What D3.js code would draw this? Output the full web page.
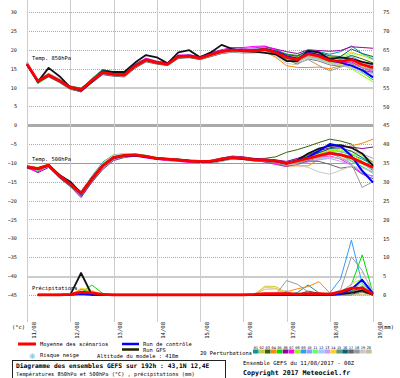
<!DOCTYPE html>
<html>
<head>
<meta charset="utf-8">
<script src="https://cdn.jsdelivr.net/npm/d3@7"></script>
<style>
  body { margin: 0; background: #fff; }
  svg { display: block; font-family: "DejaVu Sans Mono", monospace; }
</style>
</head>
<body>
<div id="chart"><svg width="400" height="378"></svg></div>
<script>
// time steps (hours from 11/08 00Z)
const hours = [0,6,12,18,24,30,36,42,48,54,60,66,72,78,84,90,96,102,108,114,120,126,132,138,144,150,156,162,168,174,180,186,192];
const precipHours = hours.slice(1);
const dayHours = [0,24,48,72,96,120,144,168,192];
const dayLabels = ["11/08","12/08","13/08","14/08","15/08","16/08","17/08","18/08","19/08"];
const tempTicks = [30,25,20,15,10,5,0,-5,-10,-15,-20,-25,-30,-35,-40,-45];
const precipTicks = [75,70,65,60,55,50,45,40,35,30,25,20,15,10,5,0];

const pertColors = ["#009999","#cccc33","#336600","#ff8800","#00dd00","#990099","#ff00ff","#99ff00","#3399ff","#9999ff",
                    "#66ff66","#99ccff","#cc99ff","#ffcc33","#669966","#006677","#666666","#999999","#c8c8c8","#ccbb99"];

// 850 hPa
const mean850 = [16.2,11.7,13.3,11.8,10.0,9.4,11.8,14.0,13.5,13.3,15.7,17.3,16.6,16.2,18.2,18.3,17.8,18.7,19.5,19.9,19.7,19.7,20.1,19.3,18.0,17.4,18.9,18.3,17.2,16.9,17.4,16.1,15.3];
const gfs850 = [16.0,11.5,15.2,13.0,10.0,9.2,11.5,14.3,14.1,14.1,16.6,18.6,18.0,16.4,19.3,19.9,18.0,19.3,21.3,20.2,19.7,19.5,19.2,18.8,17.0,17.0,19.7,19.3,17.5,18.0,17.6,16.8,16.2];
const ctrl850 = [16.1,11.6,13.2,11.8,10.0,9.3,11.7,13.9,13.5,13.4,15.8,17.4,16.7,16.3,18.3,18.4,17.9,18.8,19.6,20.0,19.8,19.8,20.2,19.5,18.3,17.6,19.2,18.6,17.3,16.6,15.8,14.6,12.7];
const pert850 = [
  [16.5,11.2,13.0,11.6,10.2,9.6,12.4,14.8,14.0,13.5,16.0,17.0,16.4,16.0,18.0,18.6,18.2,19.0,19.8,20.4,19.9,19.8,20.3,19.6,18.5,18.0,19.8,19.5,18.8,19.5,21.0,19.0,17.5],
  [15.8,11.9,13.5,12.0,9.8,9.0,11.5,13.6,13.2,13.0,15.2,16.9,16.5,16.3,18.0,18.0,17.4,18.2,19.0,19.6,19.4,19.5,20.0,19.0,17.8,16.8,18.2,17.5,16.5,16.2,16.8,15.5,14.8],
  [16.0,11.4,13.2,11.7,10.4,9.8,12.2,14.2,13.6,13.1,15.5,17.2,16.8,16.6,18.5,18.4,17.6,18.5,19.4,19.8,19.9,20.0,19.8,19.5,18.8,18.5,19.6,19.2,18.0,17.5,18.5,17.6,16.5],
  [16.3,11.8,13.6,12.1,9.9,9.2,11.6,13.8,13.4,13.4,15.9,17.5,16.7,16.0,17.8,18.1,17.6,18.6,19.2,19.5,19.3,19.4,19.5,18.0,15.8,15.3,15.3,15.4,15.0,15.8,16.4,15.8,15.0],
  [16.8,11.0,12.9,11.5,10.1,9.5,12.0,14.4,13.8,13.6,16.1,17.6,16.9,16.5,18.4,18.5,18.0,18.9,19.6,20.1,20.0,20.2,20.6,20.0,18.9,18.2,19.5,18.8,17.6,16.8,16.5,14.0,12.0],
  [16.1,11.6,13.1,11.6,9.7,8.8,11.4,13.7,13.3,13.2,15.8,17.4,16.8,16.4,18.3,18.6,18.1,19.2,20.0,20.5,20.3,20.5,20.8,20.2,19.5,19.0,20.0,19.8,19.6,19.8,20.8,20.6,20.4],
  [16.4,11.5,13.4,12.2,10.2,9.3,11.7,14.1,13.7,13.5,16.2,17.8,17.0,16.6,18.6,18.7,18.2,19.1,19.9,20.6,20.6,20.9,21.0,20.1,18.6,17.9,19.2,18.6,17.8,16.5,16.8,15.2,14.2],
  [15.9,11.3,13.0,11.4,9.6,9.0,11.6,14.0,13.3,13.0,15.4,17.0,16.3,15.9,17.9,18.0,17.5,18.4,19.3,19.7,19.5,19.6,20.2,19.4,18.3,17.5,19.0,18.0,16.9,16.0,15.0,13.2,11.5],
  [16.2,11.8,13.3,11.9,10.3,9.7,12.1,14.5,13.9,13.4,15.8,17.1,16.5,16.1,18.1,18.4,17.9,18.8,19.6,20.0,19.8,19.9,20.4,19.8,18.4,17.3,19.4,19.0,17.9,17.5,18.2,16.8,15.8],
  [16.6,12.0,13.7,12.3,10.0,9.1,11.3,13.5,13.0,12.9,15.3,17.0,16.6,16.4,18.2,18.2,17.7,18.5,19.3,19.7,19.4,19.3,19.9,19.2,18.0,17.2,18.6,18.4,17.0,16.6,17.8,16.2,14.5],
  [16.0,11.6,13.1,11.8,10.1,9.6,12.3,14.6,14.2,13.8,16.0,17.5,16.9,16.3,18.4,18.6,18.0,18.8,19.7,20.2,20.0,19.8,20.1,19.4,18.2,17.7,19.1,18.7,17.6,17.8,19.0,18.6,18.0],
  [16.3,11.9,13.5,11.9,9.8,9.2,11.7,13.9,13.3,13.1,15.6,17.3,16.5,16.0,18.0,18.1,17.5,18.3,19.0,19.3,19.1,19.2,19.6,18.6,17.2,16.6,18.0,17.4,16.4,15.8,15.2,13.8,13.2],
  [16.1,11.4,13.0,11.6,10.0,9.5,12.0,14.3,13.7,13.3,15.7,17.2,16.4,15.9,18.1,18.3,17.9,18.9,19.8,20.3,20.2,20.4,20.5,19.6,18.1,17.0,18.8,18.2,17.0,16.4,16.0,14.6,13.6],
  [16.5,11.7,13.4,12.0,10.2,9.6,11.9,14.0,13.6,13.6,16.0,17.6,16.9,16.6,18.5,18.4,17.7,18.6,19.4,19.8,19.6,19.7,20.0,19.3,18.5,18.0,19.2,19.0,18.2,18.3,19.4,18.4,17.3],
  [15.9,11.5,13.2,11.8,9.9,9.3,11.8,14.1,13.4,13.2,15.5,17.0,16.4,16.0,18.0,18.1,17.6,18.5,19.2,19.6,19.4,19.5,19.7,18.8,17.6,17.0,18.3,17.8,16.8,16.8,17.2,16.0,14.9],
  [16.2,11.8,13.6,12.1,10.3,9.7,12.2,14.7,14.1,13.7,16.1,17.5,16.8,16.5,18.4,18.5,17.9,18.7,19.6,20.0,19.8,19.9,20.3,19.7,18.7,18.3,19.9,19.3,18.4,18.2,20.2,19.0,18.2],
  [16.0,11.3,12.8,11.3,9.5,8.9,11.2,13.4,13.0,12.8,15.1,16.8,16.2,15.8,17.7,17.9,17.4,18.2,19.0,19.4,19.2,19.3,19.8,18.9,17.4,16.2,17.6,17.0,16.0,15.6,15.8,14.6,14.0],
  [16.4,11.6,13.3,11.9,10.1,9.4,11.9,14.2,13.6,13.4,15.8,17.4,16.7,16.3,18.3,18.4,17.8,18.7,19.5,20.0,19.9,20.0,20.2,19.2,17.7,16.5,17.4,15.8,14.4,15.4,16.2,15.2,14.6],
  [16.7,12.1,13.8,12.3,10.2,9.4,11.6,13.8,13.2,13.0,15.4,17.1,16.4,16.1,18.0,18.2,17.6,18.4,19.1,19.5,19.2,19.1,19.4,18.4,16.4,16.0,17.8,17.2,16.2,15.8,15.4,14.4,13.0],
  [16.3,11.7,13.4,11.9,10.0,9.4,11.9,14.1,13.6,13.3,15.6,17.2,16.6,16.2,18.2,18.3,17.7,18.6,19.4,19.8,19.5,19.6,19.6,18.6,17.0,16.7,18.4,17.9,17.3,17.0,17.6,16.6,15.6]
];

// 500 hPa
const mean500 = [-11.0,-11.5,-10.6,-13.4,-15.6,-18.0,-14.3,-10.8,-8.6,-8.0,-7.9,-8.3,-8.8,-9.0,-9.2,-9.5,-9.6,-9.6,-9.0,-8.6,-8.8,-9.2,-9.2,-9.5,-10.1,-9.5,-8.8,-8.1,-7.4,-7.9,-8.6,-9.9,-11.2];
const gfs500 = [-11.2,-11.4,-10.7,-13.2,-15.0,-18.0,-14.0,-10.6,-8.5,-8.1,-8.0,-8.4,-8.9,-9.0,-9.3,-9.4,-9.7,-9.6,-9.2,-8.6,-9.0,-9.1,-9.3,-9.6,-10.2,-9.3,-7.5,-6.2,-5.5,-5.3,-6.0,-7.5,-10.8];
const ctrl500 = [-11.0,-11.6,-10.6,-13.5,-15.7,-18.2,-14.4,-10.8,-8.7,-8.1,-8.0,-8.3,-8.8,-9.0,-9.2,-9.5,-9.6,-9.6,-9.0,-8.6,-8.8,-9.2,-9.2,-9.5,-10.1,-9.4,-8.5,-6.8,-5.0,-5.6,-8.1,-12.1,-15.2];
const pert500 = [
  [-11.2,-11.8,-10.4,-13.0,-15.2,-17.6,-13.5,-9.8,-7.9,-7.6,-7.8,-8.4,-9.0,-9.3,-9.4,-9.6,-9.8,-9.8,-9.1,-8.5,-8.7,-9.0,-9.0,-9.3,-9.8,-9.0,-8.0,-7.2,-6.5,-7.0,-7.8,-9.0,-10.5],
  [-10.8,-11.3,-10.8,-13.8,-16.0,-18.4,-15.0,-11.6,-9.2,-8.3,-8.0,-8.2,-8.6,-8.8,-9.0,-9.4,-9.5,-9.7,-9.2,-8.8,-9.0,-9.3,-9.4,-9.8,-10.5,-9.8,-9.0,-8.0,-7.5,-7.6,-8.2,-9.8,-11.0],
  [-11.1,-11.6,-10.7,-13.5,-15.8,-18.2,-14.6,-11.0,-8.7,-7.9,-7.7,-8.1,-8.7,-9.1,-9.3,-9.7,-9.9,-9.5,-8.8,-8.4,-8.5,-8.9,-8.8,-8.4,-7.2,-6.5,-5.6,-4.6,-3.7,-4.2,-5.0,-7.8,-9.8],
  [-10.9,-11.4,-10.5,-13.2,-15.5,-17.8,-14.0,-10.5,-8.4,-7.8,-7.8,-8.4,-8.9,-9.1,-9.3,-9.6,-9.7,-9.8,-9.3,-8.9,-9.1,-9.4,-9.6,-10.2,-10.8,-10.8,-10.8,-9.0,-7.4,-6.0,-5.5,-4.8,-3.7],
  [-11.3,-12.0,-10.9,-13.6,-15.9,-18.3,-14.8,-11.2,-8.9,-8.1,-7.6,-8.0,-8.6,-8.9,-9.0,-9.3,-9.4,-9.4,-8.8,-8.3,-8.6,-9.1,-9.2,-9.6,-10.0,-9.2,-8.2,-7.4,-7.0,-7.8,-9.5,-11.0,-12.5],
  [-11.0,-12.6,-11.2,-13.9,-16.2,-19.2,-15.1,-11.4,-9.0,-8.2,-8.1,-8.5,-9.0,-9.2,-9.3,-9.5,-9.6,-9.3,-8.7,-8.2,-8.4,-8.8,-9.0,-9.2,-9.6,-8.8,-7.8,-6.8,-6.0,-5.6,-5.8,-6.2,-5.8],
  [-11.4,-12.4,-10.6,-13.3,-15.4,-17.9,-14.2,-10.7,-8.5,-8.0,-8.2,-8.7,-9.1,-9.4,-9.6,-9.9,-9.9,-9.6,-8.9,-8.4,-8.6,-9.2,-9.8,-10.4,-11.0,-10.0,-9.4,-8.6,-8.2,-9.0,-10.6,-12.8,-13.5],
  [-10.9,-11.2,-10.3,-13.1,-15.3,-17.7,-13.8,-10.2,-8.2,-7.7,-7.9,-8.2,-8.7,-8.9,-9.1,-9.4,-9.5,-9.6,-9.0,-8.7,-8.9,-9.4,-9.3,-9.6,-10.4,-9.7,-8.8,-7.6,-6.8,-6.6,-7.6,-9.5,-11.8],
  [-11.1,-11.6,-10.6,-13.4,-15.7,-18.1,-14.5,-10.9,-8.6,-7.9,-7.8,-8.3,-8.8,-9.0,-9.2,-9.6,-9.8,-10.0,-9.4,-8.9,-9.0,-9.3,-9.1,-9.4,-9.8,-9.4,-8.5,-7.9,-7.2,-7.8,-8.8,-10.2,-12.0],
  [-11.0,-11.7,-10.5,-13.2,-15.6,-18.2,-14.9,-11.5,-9.3,-8.4,-8.1,-8.4,-8.8,-9.1,-9.3,-9.5,-9.6,-9.5,-8.9,-8.6,-8.7,-9.0,-9.5,-9.8,-10.2,-10.0,-9.2,-8.4,-7.8,-7.4,-7.0,-7.6,-8.8],
  [-11.2,-11.4,-10.4,-13.6,-16.1,-18.6,-14.4,-10.4,-8.0,-7.5,-7.6,-8.2,-8.6,-8.8,-9.0,-9.3,-9.5,-9.8,-9.2,-8.7,-8.8,-9.2,-9.2,-9.7,-10.6,-9.6,-8.6,-7.8,-7.2,-7.0,-7.5,-8.4,-10.2],
  [-10.8,-11.3,-10.7,-13.5,-15.7,-18.0,-14.1,-10.6,-8.5,-8.0,-7.9,-8.3,-8.9,-9.2,-9.4,-9.7,-9.8,-9.7,-9.1,-8.7,-8.9,-9.3,-9.6,-10.0,-10.5,-10.2,-9.6,-9.0,-8.6,-8.8,-9.6,-11.2,-12.8],
  [-11.1,-11.9,-10.8,-13.7,-15.9,-18.5,-14.7,-11.3,-9.1,-8.3,-8.0,-8.3,-8.7,-8.9,-9.1,-9.4,-9.6,-9.6,-8.9,-8.5,-8.6,-9.0,-9.4,-9.9,-10.7,-10.4,-9.8,-9.2,-8.8,-9.6,-10.5,-12.2,-13.8],
  [-11.0,-11.5,-10.6,-13.3,-15.4,-17.8,-13.9,-10.1,-8.1,-7.6,-7.7,-8.2,-8.8,-9.1,-9.3,-9.6,-9.7,-9.5,-8.8,-8.4,-8.6,-9.1,-9.0,-9.5,-10.0,-9.4,-8.6,-7.6,-6.5,-6.3,-6.8,-8.0,-9.6],
  [-11.2,-11.6,-10.5,-13.2,-15.5,-17.9,-14.2,-10.8,-8.7,-8.1,-8.0,-8.4,-8.9,-9.0,-9.2,-9.5,-9.6,-9.7,-9.2,-8.8,-9.0,-9.3,-9.3,-9.7,-10.3,-9.9,-9.0,-8.2,-7.6,-7.9,-8.9,-10.0,-11.4],
  [-10.9,-11.4,-10.6,-13.4,-15.6,-18.1,-14.3,-10.7,-8.5,-7.9,-7.8,-8.2,-8.7,-8.9,-9.1,-9.4,-9.5,-9.5,-8.9,-8.5,-8.7,-9.1,-9.2,-9.5,-10.1,-9.5,-8.4,-7.3,-6.2,-6.0,-6.9,-8.6,-10.5],
  [-11.3,-11.8,-10.9,-14.0,-16.3,-18.8,-15.2,-11.8,-9.4,-8.6,-8.2,-8.5,-8.9,-9.2,-9.4,-9.7,-9.9,-9.9,-9.3,-8.9,-9.1,-9.5,-9.7,-10.1,-10.9,-10.4,-9.5,-9.6,-10.4,-11.4,-11.0,-13.0,-14.2],
  [-11.0,-11.5,-10.7,-13.6,-15.8,-18.2,-14.6,-11.0,-8.8,-8.1,-7.9,-8.3,-8.8,-9.0,-9.2,-9.6,-9.8,-10.2,-9.6,-9.0,-9.1,-9.4,-9.5,-10.0,-10.8,-10.1,-9.0,-8.0,-7.4,-8.6,-10.2,-16.5,-15.0],
  [-10.8,-11.4,-10.4,-13.0,-15.3,-17.6,-13.6,-10.0,-8.0,-7.6,-7.8,-8.3,-8.8,-9.0,-9.2,-9.4,-9.5,-9.4,-8.9,-8.7,-8.8,-9.1,-9.3,-9.8,-10.2,-10.6,-11.2,-12.4,-13.0,-12.0,-10.8,-11.4,-12.2],
  [-11.1,-11.6,-10.6,-13.4,-15.6,-18.0,-14.3,-10.8,-8.6,-8.0,-7.9,-8.4,-8.9,-9.1,-9.3,-9.6,-9.7,-9.6,-9.0,-8.6,-8.8,-9.2,-9.4,-9.7,-10.4,-9.8,-9.1,-8.6,-8.4,-8.8,-9.2,-10.4,-11.6]
];

// precipitation (mm), 6h..192h
const meanPrecip = [0,0,0,0.1,0.7,0.5,0.1,0, 0,0,0,0,0,0,0,0, 0,0,0,0,0.1,0.3,0.3,0.3, 0.2,0.3,0.3,0.2,0.8,1.8,1.8,0.2];
const gfsPrecip = [0,0,0,0,5.8,0,0,0, 0,0,0,0,0,0,0,0, 0,0,0,0,0,0,0,0, 0,0,0,0,0.2,0.5,1.2,0];
const ctrlPrecip = [0,0,0,0,0.3,0,0,0, 0,0,0,0,0,0,0,0, 0,0,0,0,0,0,0,0, 0,0,0,0,0.3,1.5,4.0,0.3];
const pertPrecip = [
  [0,0,0,0,0.8,0,0,0, 0,0,0,0,0,0,0,0, 0,0,0,0,0,0,0,0, 0.6,2.6,0.5,0,0,2.0,1.0,0],
  [0,0,0,0,1.5,1.0,0,0, 0,0,0,0,0,0,0,0, 0,0,0,0,0,2.3,2.2,0.6, 0,0,0,0,0,0,1.5,0],
  [0,0,0,0,0,0.6,0,0, 0,0,0,0,0,0,0,0, 0,0,0,0,0,0,0,0, 0,0,0,0,0,0.8,2.2,0],
  [0,0,0,0,1.5,0.5,0,0, 0,0,0,0,0,0,0,0, 0,0,0,0,0,0,0,0.8, 1.6,2.2,3.5,0.5,0,0,0.6,0],
  [0,0,0,0,0.5,2.6,0.4,0, 0,0,0,0,0,0,0,0, 0,0,0,0,0,0,0,0, 0,0,0,0,0.8,2.7,10.6,0.5],
  [0,0,0,0,0,0,0,0, 0,0,0,0,0,0,0,0, 0,0,0,0,0,0,0,0, 0,0,0,0,0,1.0,1.8,0],
  [0,0,0,0,0.3,0,0,0, 0,0,0,0,0,0,0,0, 0,0,0,0,0,0,0,0, 0,0,0,0,0,1.5,2.0,0.3],
  [0,0,0,0,0,0,0,0, 0,0,0,0,0,0,0,0, 0,0,0,0,0,0,0,0, 0,0,0,0,0.4,3.0,4.2,0.5],
  [0,0,0,0,0,0,0,0, 0,0,0,0,0,0,0,0, 0,0,0,0,0,0,0,0, 0,0,0,0.5,4.2,14.5,3.0,0.5],
  [0,0,0,0,0,0.3,0,0, 0,0,0,0,0,0,0,0, 0,0,0,0,0,0,0,0, 0,0,0,0,0,0,2.5,0],
  [0,0,0,0,0,0,0,0, 0,0,0,0,0,0,0,0, 0,0,0,0,0,0,0,0, 0,0,0,0,0.5,1.5,3.0,0],
  [0,0,0,0,0,0,0,0, 0,0,0,0,0,0,0,0, 0,0,0,0,0,0,0.4,0, 0,0.8,0,0,0,0,1.0,0],
  [0,0,0,0,0,0,0,0, 0,0,0,0,0,0,0,0, 0,0,0,0,0,0,0,0, 0,0,0,0,0,0.6,1.5,0],
  [0,0,0,0,1.8,1.2,0,0, 0,0,0,0,0,0,0,0, 0,0,0,0,0,2.0,1.8,0.3, 0,0,0,0.4,0,0,0,0],
  [0,0,0,0,0,0,0,0, 0,0,0,0,0,0,0,0, 0,0,0,0,0,0,0,0.8, 0,0,0,0,0,1.2,0.8,0],
  [0,0,0,0,0,0,0,0, 0,0,0,0,0,0,0,0, 0,0,0,0,0,0,0,0, 0,1.0,0.4,0,0,0,1.2,0],
  [0,0,0,0,0.4,0,0,0, 0,0,0,0,0,0,0,0, 0,0,0,0,0,0,0,0, 0,0,0,0,0,0.6,0.8,0],
  [0,0,0,0,0,0,0,0, 0,0,0,0,0,0,0,0, 0,0,0,0,0,0,0,3.8, 2.8,0.8,0,0,1.3,10.1,6.5,0.3],
  [0,0,0,0,0,0,0,0, 0,0,0,0,0,0,0,0, 0,0,0,0,0,0,0.6,1.2, 0,0,0,0,0,3.0,6.0,1.0],
  [0,0,0,0,1.0,0,0,0, 0,0,0,0,0,0,0,0, 0,0,0,0,0,1.5,1.6,0, 0,0,0,0.3,0,0,0,0]
];

function createEnsembleChart() {
    const svg = d3.select("#chart svg");
    const plotTop = 0, plotBottom = 322, plotLeft = 27, plotRight = 373;

    const x = d3.scaleLinear().domain([0, 192]).range([plotLeft, plotRight]);
    const yT = d3.scaleLinear().domain([-52.2, 33.2]).range([plotBottom, plotTop]);
    const yP = d3.scaleLinear().domain([-7.2, 78.2]).range([plotBottom, plotTop]);

    // grid
    const grid = svg.append("g").attr("shape-rendering", "crispEdges");
    grid.selectAll("line.h")
        .data(tempTicks)
        .join("line")
        .attr("x1", plotLeft).attr("x2", plotRight)
        .attr("y1", d => Math.round(yT(d)) + 0.5).attr("y2", d => Math.round(yT(d)) + 0.5)
        .attr("stroke", d => d === -10 ? "#999" : (d === 0 ? "#aaa" : (d === 10 || d === -40 ? "#ccc" : "#aaa")))
        .attr("stroke-width", d => d === 0 ? 2.5 : (d === 10 || d === -40 ? 2 : 1))
        .attr("stroke-dasharray", d => [0, 10, -10, -40].includes(d) ? null : "1,1");

    grid.selectAll("line.v")
        .data(dayHours)
        .join("line")
        .attr("x1", d => Math.round(x(d)) + 0.5).attr("x2", d => Math.round(x(d)) + 0.5)
        .attr("y1", plotTop).attr("y2", plotBottom)
        .attr("stroke", "#cdcdcd")
        .attr("stroke-width", 1);

    // axes
    const leftAxis = svg.append("g")
        .attr("transform", "translate(19,0)")
        .call(d3.axisLeft(yT).tickValues(tempTicks).tickSize(0).tickPadding(2));
    leftAxis.select(".domain").remove();
    leftAxis.selectAll("text").style("font-size", "5.2px").style("font-family", "DejaVu Sans Mono").attr("fill", "#222");

    const rightAxis = svg.append("g")
        .attr("transform", "translate(381,0)")
        .call(d3.axisRight(yP).tickValues(precipTicks).tickSize(0).tickPadding(2));
    rightAxis.select(".domain").remove();
    rightAxis.selectAll("text").style("font-size", "5.4px").style("font-family", "DejaVu Sans Mono").attr("fill", "#222");

    const bottomAxis = svg.append("g")
        .attr("transform", `translate(0,${plotBottom})`)
        .call(d3.axisBottom(x).tickValues(dayHours).tickFormat((d, i) => dayLabels[i]).tickSize(0));
    bottomAxis.select(".domain").remove();
    bottomAxis.selectAll("text")
        .attr("x", 0).attr("y", 0).attr("dy", 0)
        .attr("transform", "translate(8,0) rotate(-90)")
        .attr("text-anchor", "end")
        .style("font-size", "5.6px")
        .style("font-family", "DejaVu Sans Mono")
        .attr("fill", "#222");

    svg.append("text").attr("x", 12).attr("y", 329).style("font-size", "5.4px").text("(°c)");
    svg.append("text").attr("x", 381).attr("y", 329).style("font-size", "5.4px").text("(mm)");

    // series labels
    const labels = [["Temp. 850hPa", 60], ["Temp. 500hPa", 161], ["Précipitations", 290]];
    svg.selectAll("text.lab")
        .data(labels)
        .join("text")
        .attr("x", 32).attr("y", d => d[1])
        .style("font-size", "5.4px")
        .text(d => d[0]);

    const lineT = d3.line().x((d, i) => x(hours[i])).y(d => yT(d));
    const lineP = d3.line().x((d, i) => x(precipHours[i])).y(d => yP(d));

    const draw = (data, gen, color, w) => svg.append("path")
        .datum(data)
        .attr("d", gen)
        .attr("fill", "none")
        .attr("stroke", color)
        .attr("stroke-width", w)
        .attr("stroke-linejoin", "round");

    pert850.forEach((s, i) => draw(s, lineT, pertColors[i], 1));
    pert500.forEach((s, i) => draw(s, lineT, pertColors[i], 1));
    pertPrecip.forEach((s, i) => draw(s, lineP, pertColors[i], 1));

    [[gfs850, lineT], [gfs500, lineT], [gfsPrecip, lineP]].forEach(p => draw(p[0], p[1], "#111", 1.8));
    [[ctrl850, lineT], [ctrl500, lineT], [ctrlPrecip, lineP]].forEach(p => draw(p[0], p[1], "#0000ff", 2));
    [[mean850, lineT], [mean500, lineT], [meanPrecip, lineP]].forEach(p => draw(p[0], p[1], "#ff0000", 2.8));

    // legend
    svg.append("line").attr("x1", 18).attr("x2", 36).attr("y1", 344).attr("y2", 344).attr("stroke", "#ff0000").attr("stroke-width", 3);
    svg.append("text").attr("x", 40).attr("y", 346).style("font-size", "5.4px").text("Moyenne des scénarios");
    svg.append("line").attr("x1", 122).attr("x2", 139).attr("y1", 344).attr("y2", 344).attr("stroke", "#0000ff").attr("stroke-width", 2.5);
    svg.append("text").attr("x", 143).attr("y", 346).style("font-size", "5.4px").text("Run de contrôle");
    svg.append("line").attr("x1", 122).attr("x2", 139).attr("y1", 349.5).attr("y2", 349.5).attr("stroke", "#222200").attr("stroke-width", 2.5);
    svg.append("text").attr("x", 143).attr("y", 351.5).style("font-size", "5.4px").text("Run GFS");
    svg.append("text").attr("x", 29).attr("y", 358.5).style("font-size", "8px").style("font-family", "DejaVu Sans").attr("fill", "#6fb8e0").text("❄");
    svg.append("text").attr("x", 40).attr("y", 357).style("font-size", "5.4px").text("Risque neige");
    svg.append("text").attr("x", 97).attr("y", 358).style("font-size", "5.4px").text("Altitude du modele : 418m");
    svg.append("text").attr("x", 200).attr("y", 355).style("font-size", "5.4px").text("20 Perturbations");

    const sw = svg.append("g");
    sw.selectAll("rect")
        .data(pertColors)
        .join("rect")
        .attr("x", (d, i) => 253 + i * 5.95).attr("y", 349.5)
        .attr("width", 5.6).attr("height", 4)
        .attr("fill", d => d);
    sw.selectAll("text")
        .data(pertColors)
        .join("text")
        .attr("x", (d, i) => 253 + i * 5.95 + 2.8).attr("y", 348.5)
        .attr("text-anchor", "middle")
        .style("font-size", "3.6px")
        .text((d, i) => d3.format("02")(i + 1));

    // title box
    svg.append("rect").attr("x", 12.5).attr("y", 360.5).attr("width", 213).attr("height", 30)
        .attr("fill", "none").attr("stroke", "#222").attr("stroke-width", 1);
    svg.append("text").attr("x", 16).attr("y", 368).style("font-size", "6.3px").style("font-weight", "bold")
        .text("Diagramme des ensembles GEFS sur 192h : 43,1N 12,4E");
    svg.append("text").attr("x", 16).attr("y", 375.5).style("font-size", "5.3px")
        .text("Températures 850hPa et 500hPa (°C) , précipitations (mm)");
    svg.append("text").attr("x", 243).attr("y", 365).style("font-size", "5.6px")
        .text("Ensemble GEFS du 11/08/2017 - 00Z");
    svg.append("text").attr("x", 243).attr("y", 375).style("font-size", "6.6px").style("font-weight", "bold")
        .text("Copyright 2017 Meteociel.fr");
}

document.addEventListener('DOMContentLoaded', createEnsembleChart);
</script>
</body>
</html>
